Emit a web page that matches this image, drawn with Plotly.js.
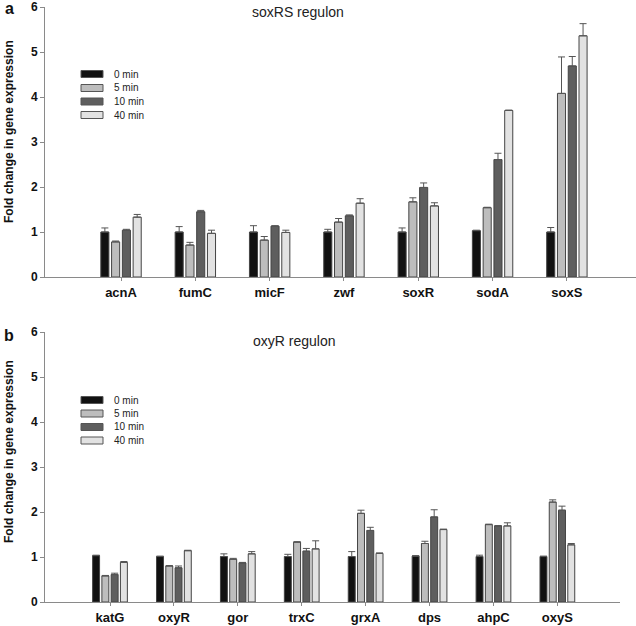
<!DOCTYPE html>
<html><head><meta charset="utf-8">
<script src="https://cdn.plot.ly/plotly-3.0.1.min.js"></script>
<style>html,body{margin:0;padding:0;background:#fff;}#chart{width:636px;height:626px;}</style>
</head><body><div id="chart"></div>
<script>
// ---- data ----
const timeLabels = ["0 min", "5 min", "10 min", "40 min"];

const soxGenes = ["acnA", "fumC", "micF", "zwf", "soxR", "sodA", "soxS"];
const sox0  = [1.00, 1.00, 1.00, 1.00, 1.00, 1.03, 1.00];
const sox5  = [0.78, 0.71, 0.82, 1.22, 1.67, 1.54, 4.08];
const sox10 = [1.04, 1.45, 1.13, 1.36, 1.99, 2.61, 4.69];
const sox40 = [1.33, 0.97, 0.99, 1.64, 1.58, 3.70, 5.36];
const soxErr0  = [0.09, 0.12, 0.14, 0.06, 0.09, 0.01, 0.10];
const soxErr5  = [0.02, 0.06, 0.08, 0.08, 0.09, 0.01, 0.81];
const soxErr10 = [0.02, 0.03, 0.01, 0.02, 0.10, 0.14, 0.21];
const soxErr40 = [0.06, 0.07, 0.05, 0.10, 0.07, 0.01, 0.27];

const oxyGenes = ["katG", "oxyR", "gor", "trxC", "grxA", "dps", "ahpC", "oxyS"];
const oxy0  = [1.03, 1.01, 1.01, 1.01, 1.01, 1.02, 1.01, 1.01];
const oxy5  = [0.58, 0.80, 0.95, 1.33, 1.97, 1.30, 1.72, 2.22];
const oxy10 = [0.61, 0.76, 0.87, 1.13, 1.59, 1.89, 1.69, 2.04];
const oxy40 = [0.88, 1.14, 1.07, 1.18, 1.08, 1.61, 1.69, 1.27];
const oxyErr0  = [0.01, 0.01, 0.06, 0.05, 0.11, 0.01, 0.03, 0.01];
const oxyErr5  = [0.01, 0.01, 0.02, 0.01, 0.07, 0.05, 0.01, 0.05];
const oxyErr10 = [0.03, 0.04, 0.01, 0.06, 0.07, 0.16, 0.01, 0.09];
const oxyErr40 = [0.02, 0.01, 0.05, 0.18, 0.01, 0.01, 0.07, 0.03];

// ---- styles ----
const fills = ["#111111", "#bdbdbd", "#5e5e5e", "#e2e2e2"];
const outline = "#444444";
const FONT = "Liberation Sans, Arial, sans-serif";

const W = 636, H = 626;
const M = {l: 45, r: 0, t: 7, b: 24};
const PW = W - M.l - M.r, PH = H - M.t - M.b;
const px2x = p => (p - M.l) / PW;
const px2y = p => (H - M.b - p) / PH;

function mk(genes, vals, errs, i, xa, ya) {
  return {
    type: "bar", x: genes, y: vals, name: timeLabels[i],
    xaxis: xa, yaxis: ya, showlegend: false,
    marker: {color: fills[i], line: {color: outline, width: 1}},
    error_y: {type: "data", symmetric: false, array: errs,
              arrayminus: errs.map(() => 0), color: "#555", thickness: 1, width: 3.5},
    hoverinfo: "x+y"
  };
}

const traces = [
  mk(soxGenes, sox0, soxErr0, 0, "x", "y"),
  mk(soxGenes, sox5, soxErr5, 1, "x", "y"),
  mk(soxGenes, sox10, soxErr10, 2, "x", "y"),
  mk(soxGenes, sox40, soxErr40, 3, "x", "y"),
  mk(oxyGenes, oxy0, oxyErr0, 0, "x2", "y2"),
  mk(oxyGenes, oxy5, oxyErr5, 1, "x2", "y2"),
  mk(oxyGenes, oxy10, oxyErr10, 2, "x2", "y2"),
  mk(oxyGenes, oxy40, oxyErr40, 3, "x2", "y2")
];

const axisLine = "#8a8a8a";
const yBase = {
  range: [0, 6], dtick: 1, tick0: 0, showgrid: false, zeroline: false,
  showline: true, linecolor: axisLine, linewidth: 1,
  ticks: "outside", ticklen: 4, tickcolor: axisLine,
  tickfont: {family: FONT, size: 12, color: "#111", weight: "bold"}, fixedrange: true
};
const xBase = {
  type: "category", showgrid: false, zeroline: false,
  showline: true, linecolor: axisLine, linewidth: 1,
  ticks: "outside", ticklen: 3, tickcolor: axisLine,
  tickfont: {family: FONT, size: 13, color: "#111", weight: "bold"}, fixedrange: true
};

const topDom = [px2y(277), px2y(7)];
const botDom = [px2y(602), px2y(332)];

const shapes = [];
const annotations = [];

function legendAt(rowsPx) {
  rowsPx.forEach((cy, i) => {
    shapes.push({type: "rect", xref: "paper", yref: "paper",
      x0: px2x(81), x1: px2x(103), y0: px2y(cy + 3.5), y1: px2y(cy - 3.5),
      fillcolor: fills[i], line: {color: "#555", width: 1}});
    annotations.push({xref: "paper", yref: "paper", x: px2x(112), y: px2y(cy),
      xanchor: "left", yanchor: "middle", showarrow: false, text: timeLabels[i],
      font: {family: FONT, size: 10, color: "#222"}});
  });
}
legendAt([74, 88, 101.5, 115]);
legendAt([400, 413.5, 427, 440.5]);

// panel titles
annotations.push({xref: "paper", yref: "paper", x: px2x(298), y: px2y(12.5), xanchor: "center", yanchor: "middle",
  showarrow: false, text: "soxRS regulon", font: {family: FONT, size: 14, color: "#222"}});
annotations.push({xref: "paper", yref: "paper", x: px2x(294), y: px2y(340.5), xanchor: "center", yanchor: "middle",
  showarrow: false, text: "oxyR regulon", font: {family: FONT, size: 14, color: "#222"}});
// panel letters
annotations.push({xref: "paper", yref: "paper", x: px2x(9), y: px2y(9), xanchor: "center", yanchor: "middle",
  showarrow: false, text: "a", font: {family: FONT, size: 16, color: "#111", weight: "bold"}});
annotations.push({xref: "paper", yref: "paper", x: px2x(9), y: px2y(335), xanchor: "center", yanchor: "middle",
  showarrow: false, text: "b", font: {family: FONT, size: 16, color: "#111", weight: "bold"}});
// y titles
annotations.push({xref: "paper", yref: "paper", x: px2x(9), y: px2y(132), xanchor: "center", yanchor: "middle",
  showarrow: false, textangle: -90, text: "Fold change in gene expression",
  font: {family: FONT, size: 12, color: "#111", weight: "bold"}});
annotations.push({xref: "paper", yref: "paper", x: px2x(9), y: px2y(452), xanchor: "center", yanchor: "middle",
  showarrow: false, textangle: -90, text: "Fold change in gene expression",
  font: {family: FONT, size: 12, color: "#111", weight: "bold"}});

const layout = {
  width: W, height: H, margin: M,
  paper_bgcolor: "#fff", plot_bgcolor: "#fff",
  barmode: "group", bargap: 0.42, bargroupgap: 0.25,
  showlegend: false,
  xaxis: Object.assign({}, xBase, {domain: [0, 1], anchor: "y", range: [-1.023, 6.93]}),
  yaxis: Object.assign({}, yBase, {domain: topDom, anchor: "x"}),
  xaxis2: Object.assign({}, xBase, {domain: [0, px2x(620)], anchor: "y2", range: [-1.017, 7.98]}),
  yaxis2: Object.assign({}, yBase, {domain: botDom, anchor: "x2"}),
  shapes: shapes, annotations: annotations
};

Plotly.newPlot("chart", traces, layout, {displayModeBar: false, staticPlot: true});
</script></body></html>
